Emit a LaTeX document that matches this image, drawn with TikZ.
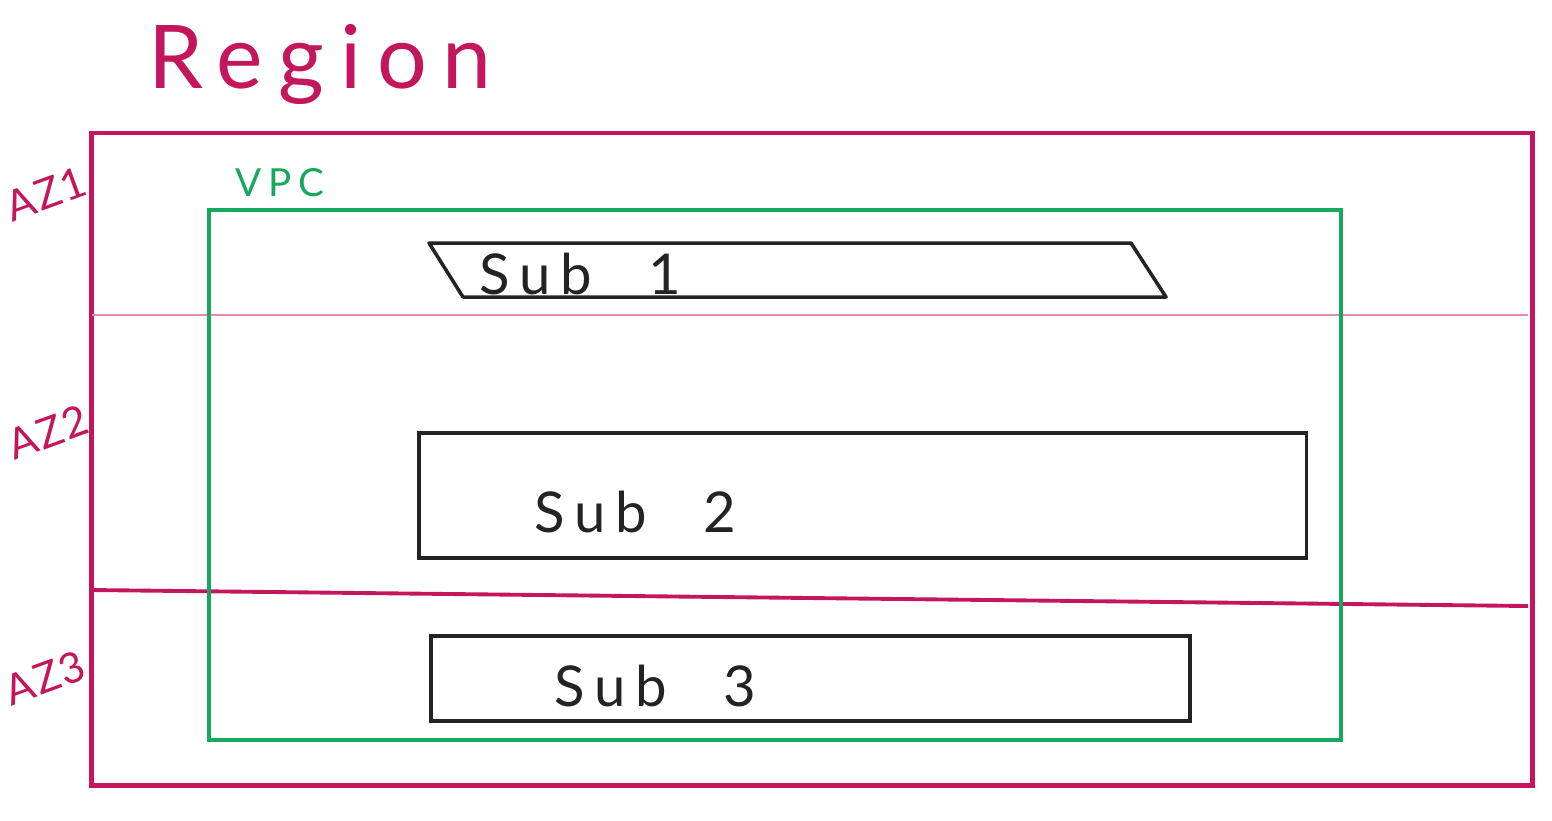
\documentclass[tikz,border=0pt]{standalone}
\usepackage{fontspec}
\setmainfont{Lato}
\newfontfamily\handfont[LetterSpace=18]{Lato}
\newfontfamily\azfont[LetterSpace=4]{Lato}
\usetikzlibrary{positioning}
\definecolor{regred}{RGB}{196,22,92}
\definecolor{azpink}{RGB}{228,140,176}
\definecolor{vpcgreen}{RGB}{22,168,92}
\definecolor{subgray}{RGB}{35,35,35}
\tikzset{
  regionbox/.style={rectangle, draw=regred, line width=1.3pt, inner sep=0pt},
  vpcbox/.style={rectangle, draw=vpcgreen, line width=1.2pt, inner sep=0pt},
  subbox/.style={rectangle, draw=subgray, line width=1pt, inner sep=0pt},
  subline/.style={draw=subgray, line width=1pt, line join=round},
  sublabel/.style={text=subgray, font=\handfont\fontsize{16}{16}\selectfont},
  azlabel/.style={text=regred, font=\azfont\fontsize{12}{12}\selectfont,
    rotate=20, inner sep=1pt},
  thindivider/.style={color=azpink, line width=0.6pt},
  divider/.style={color=regred, line width=1.1pt}
}

\begin{document}
\begin{tikzpicture}[x=0.01cm, y=-0.01cm]
  \useasboundingbox (0,0) rectangle (1552,820);

  % Region
  \node[text=regred, font=\handfont\fontsize{25}{25}\selectfont] (lblregion) at (320,64) {Region};
  \node[regionbox, minimum width=14.4cm, minimum height=6.52cm] (region) at (812,459) {};

  % Availability zones
  \node[azlabel] (az1) at (46,194) {AZ1};
  \node[azlabel] (az2) at (48,432) {AZ2};
  \node[azlabel] (az3) at (45,678) {AZ3};
  \coordinate (az12w) at (92,315);
  \coordinate (az12e) at (1528,315);
  \coordinate (az23w) at (92,590);
  \coordinate (az23e) at (1528,606);
  \draw[thindivider] (az12w) -- (az12e);
  \draw[divider] (az23w) -- (az23e);

  % VPC
  \node[text=vpcgreen, font=\handfont\fontsize{11}{11}\selectfont] (lblvpc) at (280,183) {VPC};
  \node[vpcbox, minimum width=11.32cm, minimum height=5.30cm] (vpc) at (775,475) {};

  % Subnets
  \coordinate (s1a) at (429,243);
  \coordinate (s1b) at (1131,243);
  \coordinate (s1c) at (1166,297);
  \coordinate (s1d) at (463,297);
  \draw[subline] (s1a) -- (s1b) -- (s1c) -- (s1d) -- cycle;
  \node[sublabel] (sub1) at (580,274) {Sub\quad 1};
  \node[subbox, minimum width=8.87cm, minimum height=1.25cm] (sub2box) at (862.5,495.5) {};
  \node[sublabel] (sub2) at (635,512) {Sub\quad 2};
  \node[subbox, minimum width=7.59cm, minimum height=0.85cm] (sub3box) at (810.5,678.5) {};
  \node[sublabel] (sub3) at (655,686) {Sub\quad 3};
\end{tikzpicture}
\end{document}
